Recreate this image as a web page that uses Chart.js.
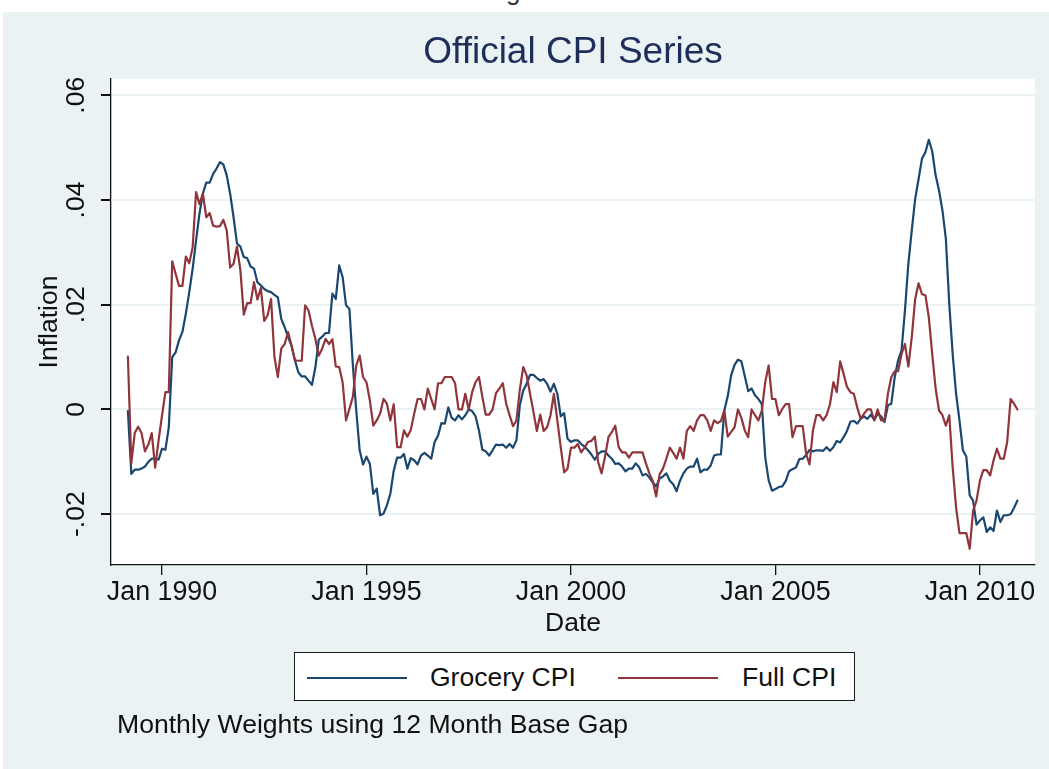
<!DOCTYPE html>
<html>
<head>
<meta charset="utf-8">
<title>Official CPI Series</title>
<script src="https://cdn.jsdelivr.net/npm/chart.js@4.4.1/dist/chart.umd.min.js"></script>
<style>
    html, body { margin: 0; padding: 0; background: #ffffff; }
    body { width: 1049px; height: 769px; position: relative; overflow: hidden;
           font-family: "Liberation Sans", Arial, Helvetica, sans-serif; }
    #bg { position: absolute; left: 3px; top: 12px; right: 0; bottom: 0; background: #eaf2f3; }
    #cut { position: absolute; left: 500px; top: 0; width: 30px; height: 11px; overflow: hidden; }
    #cut span { position: absolute; left: 6px; top: -22px; font-size: 26px; line-height: 26px; color: #333; }
    #chart { position: absolute; left: 0; top: 0; }
    #title { position: absolute; left: 111px; width: 924px; top: 32px; text-align: center;
             font-size: 37px; line-height: 37px; color: #1f2d5a; white-space: nowrap; }
    #legend { position: absolute; left: 294px; top: 652px; width: 559px; height: 47px;
              background: #ffffff; border: 1.5px solid #1a1a1a; }
    .swatch { position: absolute; top: 24px; width: 100px; height: 2px; }
    .item { position: absolute; top: 11px; font-size: 26.5px; line-height: 26px; color: #111; white-space: nowrap; }
    #note { position: absolute; left: 117px; top: 711px; font-size: 26.6px; line-height: 26px; color: #111; white-space: nowrap; }
</style>
</head>
<body>
<div id="bg"></div>
<div id="cut"><span>g</span></div>
<canvas id="chart" width="1049" height="769"></canvas>
<div id="title">Official CPI Series</div>
<div id="legend">
    <div class="swatch" style="left:12px;background:#1a476f"></div>
    <div class="item" style="left:135px">Grocery CPI</div>
    <div class="swatch" style="left:323px;background:#90353b"></div>
    <div class="item" style="left:447px">Full CPI</div>
</div>
<div id="note">Monthly Weights using 12 Month Base Gap</div>

<script>
// ===============================
// Data (monthly, Mar 1989 - Dec 2010)
// ===============================
const firstMonth = -10; // months from Jan 1990

const groceryCPI = [
    -0.0003, -0.0123, -0.0115, -0.0115, -0.0113, -0.0109, -0.0100, -0.0094, -0.0094, -0.0096,
    -0.0075, -0.0077, -0.0034, 0.0100, 0.0109, 0.0132, 0.0148, 0.0183, 0.0224, 0.0269,
    0.0323, 0.0374, 0.0412, 0.0433, 0.0433, 0.0450, 0.0460, 0.0472, 0.0468, 0.0447,
    0.0412, 0.0367, 0.0317, 0.0311, 0.0291, 0.0289, 0.0273, 0.0269, 0.0243, 0.0237,
    0.0230, 0.0226, 0.0224, 0.0219, 0.0214, 0.0173, 0.0157, 0.0138, 0.0122, 0.0094,
    0.0071, 0.0063, 0.0063, 0.0055, 0.0047, 0.0080, 0.0133, 0.0139, 0.0146, 0.0146,
    0.0221, 0.0211, 0.0275, 0.0253, 0.0199, 0.0192, 0.0085, -0.0002, -0.0078, -0.0105,
    -0.0090, -0.0104, -0.0161, -0.0151, -0.0202, -0.0199, -0.0183, -0.0161, -0.0117, -0.0092,
    -0.0092, -0.0085, -0.0113, -0.0093, -0.0097, -0.0105, -0.0088, -0.0083, -0.0088, -0.0094,
    -0.0062, -0.0050, -0.0026, -0.0027, 0.0004, -0.0016, -0.0021, -0.0011, -0.0019, -0.0011,
    0.0000, -0.0003, -0.0013, -0.0040, -0.0077, -0.0080, -0.0088, -0.0078, -0.0067, -0.0068,
    -0.0067, -0.0073, -0.0066, -0.0073, -0.0059, 0.0008, 0.0036, 0.0049, 0.0066, 0.0066,
    0.0060, 0.0055, 0.0058, 0.0049, 0.0034, 0.0049, 0.0030, -0.0013, -0.0007, -0.0056,
    -0.0062, -0.0059, -0.0059, -0.0066, -0.0071, -0.0078, -0.0086, -0.0096, -0.0085, -0.0080,
    -0.0080, -0.0088, -0.0094, -0.0104, -0.0103, -0.0109, -0.0118, -0.0113, -0.0113, -0.0103,
    -0.0110, -0.0126, -0.0123, -0.0130, -0.0139, -0.0147, -0.0132, -0.0128, -0.0122, -0.0136,
    -0.0143, -0.0156, -0.0136, -0.0122, -0.0113, -0.0109, -0.0109, -0.0094, -0.0120, -0.0115,
    -0.0115, -0.0107, -0.0088, -0.0086, -0.0086, -0.0002, 0.0025, 0.0065, 0.0085, 0.0095,
    0.0092, 0.0064, 0.0035, 0.0040, 0.0027, 0.0020, 0.0010, -0.0091, -0.0135, -0.0155,
    -0.0152, -0.0148, -0.0147, -0.0137, -0.0118, -0.0114, -0.0111, -0.0095, -0.0094, -0.0087,
    -0.0077, -0.0080, -0.0078, -0.0078, -0.0079, -0.0072, -0.0079, -0.0072, -0.0060, -0.0063,
    -0.0053, -0.0041, -0.0023, -0.0022, -0.0027, -0.0018, -0.0013, -0.0018, -0.0010, -0.0020,
    -0.0008, -0.0013, -0.0024, 0.0008, 0.0011, 0.0062, 0.0094, 0.0113, 0.0189, 0.0278,
    0.0342, 0.0402, 0.0440, 0.0479, 0.0491, 0.0515, 0.0493, 0.0447, 0.0418, 0.0380,
    0.0326, 0.0202, 0.0106, 0.0030, -0.0021, -0.0078, -0.0090, -0.0164, -0.0174, -0.0220,
    -0.0212, -0.0206, -0.0234, -0.0225, -0.0232, -0.0193, -0.0215, -0.0202, -0.0202, -0.0200,
    -0.0188, -0.0174
];

const fullCPI = [
    0.0101, -0.0103, -0.0045, -0.0033, -0.0045, -0.0080, -0.0067, -0.0045, -0.0111, -0.0059,
    -0.0012, 0.0033, 0.0033, 0.0283, 0.0259, 0.0236, 0.0236, 0.0292, 0.0279, 0.0310,
    0.0415, 0.0392, 0.0412, 0.0367, 0.0375, 0.0351, 0.0349, 0.0350, 0.0362, 0.0342,
    0.0271, 0.0278, 0.0311, 0.0266, 0.0181, 0.0203, 0.0203, 0.0243, 0.0210, 0.0232,
    0.0169, 0.0180, 0.0211, 0.0100, 0.0062, 0.0116, 0.0125, 0.0148, 0.0122, 0.0094,
    0.0093, 0.0093, 0.0199, 0.0189, 0.0160, 0.0135, 0.0103, 0.0116, 0.0135, 0.0125,
    0.0134, 0.0082, 0.0081, 0.0052, -0.0021, 0.0001, 0.0024, 0.0084, 0.0103, 0.0062,
    0.0052, 0.0017, -0.0031, -0.0021, -0.0008, 0.0020, 0.0011, -0.0021, 0.0010, -0.0072,
    -0.0072, -0.0040, -0.0052, -0.0039, -0.0008, 0.0020, 0.0020, 0.0000, 0.0040, 0.0020,
    0.0000, 0.0050, 0.0050, 0.0062, 0.0062, 0.0062, 0.0050, 0.0000, 0.0000, 0.0030,
    0.0000, 0.0033, 0.0052, 0.0062, 0.0024, -0.0010, -0.0010, 0.0000, 0.0031, 0.0040,
    0.0050, 0.0011, -0.0011, -0.0032, -0.0021, 0.0038, 0.0081, 0.0065, 0.0030, -0.0005,
    -0.0041, -0.0010, -0.0041, -0.0034, -0.0011, 0.0030, -0.0021, -0.0072, -0.0120, -0.0113,
    -0.0073, -0.0073, -0.0066, -0.0082, -0.0073, -0.0062, -0.0060, -0.0052, -0.0101, -0.0122,
    -0.0090, -0.0053, -0.0043, -0.0031, -0.0072, -0.0082, -0.0082, -0.0092, -0.0082, -0.0082,
    -0.0082, -0.0082, -0.0103, -0.0122, -0.0136, -0.0166, -0.0124, -0.0113, -0.0094, -0.0073,
    -0.0083, -0.0094, -0.0073, -0.0094, -0.0041, -0.0032, -0.0041, -0.0021, -0.0011, -0.0011,
    -0.0021, -0.0041, -0.0021, -0.0026, -0.0022, -0.0002, -0.0052, -0.0043, -0.0034, 0.0000,
    -0.0016, -0.0040, -0.0053, 0.0000, -0.0011, -0.0021, -0.0002, 0.0052, 0.0084, 0.0020,
    0.0020, -0.0011, 0.0001, 0.0010, 0.0010, -0.0053, -0.0032, -0.0032, -0.0032, -0.0085,
    -0.0105, -0.0040, -0.0011, -0.0011, -0.0021, -0.0011, 0.0010, 0.0052, 0.0033, 0.0092,
    0.0068, 0.0043, 0.0033, 0.0030, 0.0004, -0.0018, -0.0008, 0.0000, 0.0000, -0.0021,
    0.0000, -0.0021, -0.0021, 0.0030, 0.0062, 0.0073, 0.0073, 0.0106, 0.0125, 0.0082,
    0.0138, 0.0211, 0.0241, 0.0220, 0.0218, 0.0176, 0.0106, 0.0040, -0.0002, -0.0011,
    -0.0031, -0.0011, -0.0110, -0.0187, -0.0236, -0.0236, -0.0236, -0.0266, -0.0193, -0.0174,
    -0.0136, -0.0116, -0.0116, -0.0126, -0.0097, -0.0075, -0.0094, -0.0094, -0.0062, 0.0020,
    0.0011, 0.0000
];

const xTickMonths = [0, 60, 120, 180, 240];
const xTickLabels = ["Jan 1990", "Jan 1995", "Jan 2000", "Jan 2005", "Jan 2010"];
const yTickValues = [-0.02, 0, 0.02, 0.04, 0.06];
const yTickLabels = ["-.02", "0", ".02", ".04", ".06"];

const FONT = '"Liberation Sans", Arial, Helvetica, sans-serif';

function toPoints(values) {
    return values.map((v, i) => ({ x: firstMonth + i, y: v }));
}

// ===============================
// Plot background + axis texts
// ===============================
const stataDecor = {
    id: "stataDecor",
    beforeDraw(chart) {
        const { ctx, chartArea: a } = chart;
        ctx.save();
        ctx.fillStyle = "#ffffff";
        ctx.fillRect(a.left, a.top, a.right - a.left, a.bottom - a.top);
        ctx.restore();
    },
    afterDraw(chart) {
        const { ctx, chartArea: a } = chart;
        const y = chart.scales.y;
        ctx.save();
        ctx.fillStyle = "#111111";
        ctx.font = "26.5px " + FONT;
        ctx.textAlign = "center";
        ctx.textBaseline = "alphabetic";

        // rotated y tick labels
        yTickValues.forEach((v, i) => {
            ctx.save();
            ctx.translate(84, y.getPixelForValue(v));
            ctx.rotate(-Math.PI / 2);
            ctx.fillText(yTickLabels[i], 0, 0);
            ctx.restore();
        });

        // y title
        ctx.save();
        ctx.translate(57, (a.top + a.bottom) / 2);
        ctx.rotate(-Math.PI / 2);
        ctx.fillText("Inflation", 0, 0);
        ctx.restore();

        // x title
        ctx.fillText("Date", (a.left + a.right) / 2, 631);
        ctx.restore();
    }
};

// ===============================
// Chart
// ===============================
const ctx = document.getElementById("chart").getContext("2d");

new Chart(ctx, {
    type: "line",
    data: {
        datasets: [
            {
                label: "Grocery CPI",
                data: toPoints(groceryCPI),
                borderColor: "#1a476f",
                borderWidth: 2.2,
                order: 1
            },
            {
                label: "Full CPI",
                data: toPoints(fullCPI),
                borderColor: "#90353b",
                borderWidth: 2.2,
                order: 0
            }
        ]
    },
    options: {
        responsive: false,
        animation: false,
        events: [],
        elements: {
            point: { radius: 0 },
            line: { tension: 0, borderJoinStyle: "round", borderCapStyle: "round" }
        },
        layout: { padding: { left: 0, right: 14, top: 79, bottom: 104 } },
        plugins: {
            legend: { display: false },
            title: { display: false },
            tooltip: { enabled: false }
        },
        scales: {
            x: {
                type: "linear",
                min: -14.96,
                max: 256.16,
                afterBuildTicks: s => { s.ticks = xTickMonths.map(v => ({ value: v })); },
                afterFit: s => { s.height = 100; },
                ticks: {
                    autoSkip: false,
                    maxRotation: 0,
                    padding: 2,
                    color: "#111111",
                    font: { family: FONT, size: 26.8 },
                    callback: v => xTickLabels[xTickMonths.indexOf(v)]
                },
                grid: {
                    drawOnChartArea: false,
                    drawTicks: true,
                    tickLength: 10,
                    tickColor: "#111111",
                    lineWidth: 1.3
                },
                border: { display: true, color: "#111111", width: 1.3 }
            },
            y: {
                type: "linear",
                min: -0.0297,
                max: 0.0631,
                afterBuildTicks: s => { s.ticks = yTickValues.map(v => ({ value: v })); },
                afterFit: s => { s.width = 111; },
                ticks: { display: false },
                grid: {
                    color: "#eaf2f3",
                    lineWidth: 2,
                    drawTicks: true,
                    tickLength: 10,
                    tickColor: "#111111"
                },
                border: { display: true, color: "#111111", width: 1.3 }
            }
        }
    },
    plugins: [stataDecor]
});
</script>
</body>
</html>
